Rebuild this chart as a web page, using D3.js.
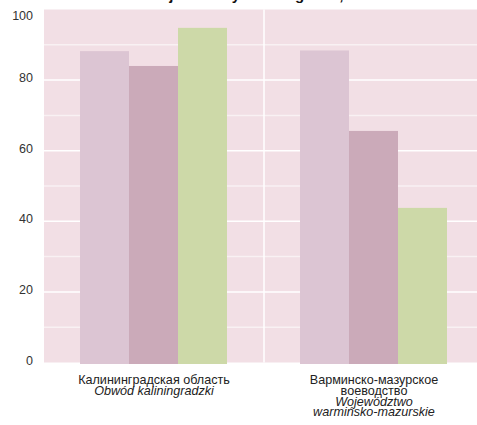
<!DOCTYPE html>
<html>
<head>
<meta charset="utf-8">
<script src="https://cdn.jsdelivr.net/npm/d3@7"></script>
<style>
  html, body { margin: 0; padding: 0; background: #ffffff; }
  svg { display: block; }
</style>
</head>
<body>
<svg id="chart" width="477" height="425"></svg>
<script>
const titleText = "Ocena jakości życia w regionie, %";
const categories = ["kaliningrad", "warmia"];
const categoryLabels = [
  [{t: "Калининградская область", i: false}, {t: "Obwód kaliningradzki", i: true}],
  [{t: "Варминско-мазурское", i: false}, {t: "воеводство", i: false}, {t: "Województwo", i: true}, {t: "warmińsko-mazurskie", i: true}]
];
const seriesNames = ["s1", "s2", "s3"];
const seriesColors = ["#dcc5d3", "#cbaab9", "#cdd9a8"];
const values = {
  s1: [88.2, 88.4],
  s2: [84.0, 65.6],
  s3: [94.8, 43.8]
};
const yTicks = [0, 20, 40, 60, 80, 100];
const yMinor = [10, 30, 50, 70, 90];

(function () {
const svg = d3.select("#chart");
const pLeft = 44, pRight = 484, pTop = 9.5, pBottom = 362.5;

const x0 = d3.scaleBand().domain(categories).range([pLeft, pRight]).padding(0);
const x1 = d3.scaleBand().domain(seriesNames).range([36, 183]).padding(0);
const y = d3.scaleLinear().domain([0, 100]).range([pBottom, pTop]);

svg.append("rect").attr("x", pLeft).attr("y", pTop)
  .attr("width", pRight - pLeft).attr("height", pBottom - pTop)
  .attr("fill", "#f2dfe5");

svg.append("g").selectAll("line").data(yMinor).join("line")
  .attr("x1", pLeft).attr("x2", pRight)
  .attr("y1", d => y(d)).attr("y2", d => y(d))
  .attr("stroke", "#ffffff").attr("stroke-opacity", 0.55).attr("stroke-width", 1.5);
svg.append("g").selectAll("line").data(yTicks.filter(d => d > 0 && d < 100)).join("line")
  .attr("x1", pLeft).attr("x2", pRight)
  .attr("y1", d => y(d)).attr("y2", d => y(d))
  .attr("stroke", "#ffffff").attr("stroke-width", 1.5);

svg.append("line")
  .attr("x1", x0("warmia")).attr("x2", x0("warmia"))
  .attr("y1", pTop).attr("y2", pBottom)
  .attr("stroke", "#ffffff").attr("stroke-width", 1.5);

const groups = svg.append("g").selectAll("g").data(categories).join("g")
  .attr("transform", d => `translate(${x0(d)},0)`);
groups.selectAll("rect")
  .data((c, ci) => seriesNames.map((s, si) => ({s, si, v: values[s][ci]})))
  .join("rect")
  .attr("x", d => x1(d.s))
  .attr("width", x1.bandwidth())
  .attr("y", d => y(d.v))
  .attr("height", d => y(0) - y(d.v) + 1.5)
  .attr("fill", d => seriesColors[d.si]);

const yAxis = d3.axisLeft(y).tickValues(yTicks).tickSize(0).tickPadding(11);
const ya = svg.append("g").attr("transform", `translate(${pLeft},0)`).call(yAxis);
ya.select(".domain").remove();
ya.selectAll("text")
  .attr("font-family", "Arial, 'Liberation Sans', sans-serif")
  .attr("font-size", 12.5).attr("fill", "#333333")
  .attr("dy", "0.13em")
  .attr("y", d => d === 100 ? 8.5 : 0);

categories.forEach((c, ci) => {
  const cx = x0(c) + x0.bandwidth() / 2;
  const t = svg.append("text")
    .attr("x", cx).attr("y", 384.3)
    .attr("text-anchor", "middle")
    .attr("font-family", "Arial, 'Liberation Sans', sans-serif")
    .attr("font-size", 12.6).attr("fill", "#222222");
  categoryLabels[ci].forEach((ln, li) => {
    t.append("tspan").attr("x", cx).attr("y", 384.3 + li * 10.6)
      .attr("font-style", ln.i ? "italic" : "normal")
      .text(ln.t);
  });
});

svg.append("text")
  .attr("x", 240).attr("y", 0)
  .attr("text-anchor", "middle")
  .attr("font-family", "Arial, 'Liberation Sans', sans-serif")
  .attr("font-weight", "bold")
  .attr("font-size", 15).attr("fill", "#111111")
  .text(titleText);
})();
</script>
</body>
</html>
